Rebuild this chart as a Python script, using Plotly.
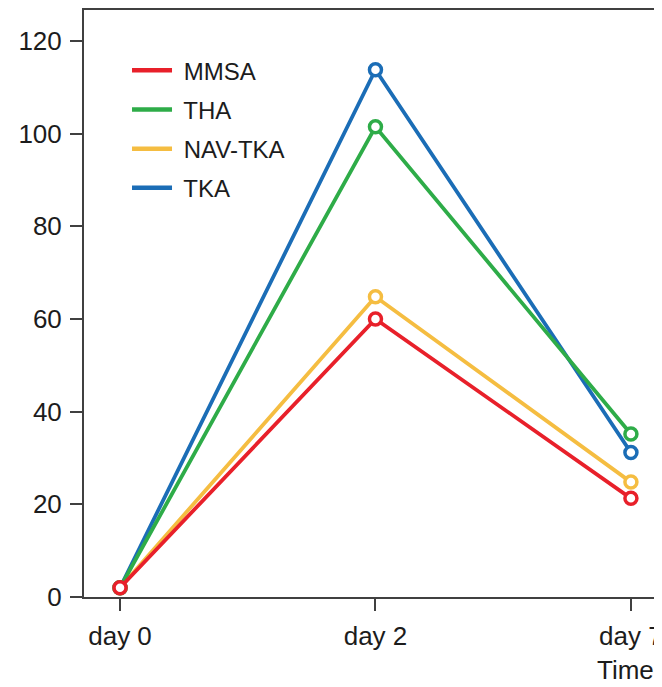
import plotly.graph_objects as go

days = ["day 0", "day 2", "day 7"]
series_names = ["MMSA", "THA", "NAV-TKA", "TKA"]
mmsa = [2.0, 60.0, 21.3]
tha = [2.0, 101.5, 35.2]
nav_tka = [2.0, 64.8, 24.8]
tka = [2.0, 113.8, 31.2]
y_ticks = [0, 20, 40, 60, 80, 100, 120]

colors = {
    "MMSA": "#E8202A",
    "THA": "#2EAC48",
    "NAV-TKA": "#F5BD41",
    "TKA": "#1B6DB6",
}
values = {"MMSA": mmsa, "THA": tha, "NAV-TKA": nav_tka, "TKA": tka}

FONT = "Liberation Sans, Arial, sans-serif"
TXT = "#1c1c1c"
AX = "#404040"
fig = go.Figure()

# legend-only entries (lines only)
for name in series_names:
    fig.add_trace(go.Scatter(
        x=[None], y=[None], mode="lines", name=" " + name,
        line=dict(color=colors[name], width=4.5),
        legendgroup=name, showlegend=True, hoverinfo="skip",
    ))

# data traces, MMSA drawn last (on top)
for name in reversed(series_names):
    fig.add_trace(go.Scatter(
        x=[0, 1, 2], y=values[name], mode="lines+markers", name=name,
        line=dict(color=colors[name], width=3.8),
        marker=dict(symbol="circle", size=12, color="white",
                    line=dict(color=colors[name], width=3.5)),
        showlegend=False, legendgroup=name, cliponaxis=False,
    ))

fig.update_layout(
    width=662, height=687,
    margin=dict(l=76, r=0, t=2, b=98),
    paper_bgcolor="white", plot_bgcolor="white",
    font=dict(family=FONT, size=26, color=TXT),
    showlegend=True,
    legend=dict(
        x=0.0734, y=0.935, xanchor="left", yanchor="top",
        bgcolor="rgba(0,0,0,0)", borderwidth=0,
        font=dict(family=FONT, size=24, color=TXT),
        tracegroupgap=5, itemwidth=40,
    ),
)

fig.update_xaxes(
    range=[-0.141, 2.153],
    tickmode="array", tickvals=[0, 1, 2], ticktext=days,
    showgrid=False, zeroline=False,
    showline=True, linecolor=AX, linewidth=2, mirror=True,
    ticks="outside", ticklen=12, tickwidth=2, tickcolor=AX,
    tickfont=dict(size=26), ticklabelstandoff=3,
)
fig.update_yaxes(
    range=[0, 126.7],
    tickmode="array", tickvals=y_ticks,
    showgrid=False, zeroline=False,
    showline=True, linecolor=AX, linewidth=2, mirror=False,
    ticks="outside", ticklen=12, tickwidth=2, tickcolor=AX,
    tickfont=dict(size=26), ticklabelstandoff=3,
)

fig.add_annotation(
    text="Time", xref="paper", yref="paper",
    x=0.872, y=-0.125,
    xanchor="left", yanchor="middle", showarrow=False,
    font=dict(family=FONT, size=26, color=TXT),
)

fig.write_html("out.html")
